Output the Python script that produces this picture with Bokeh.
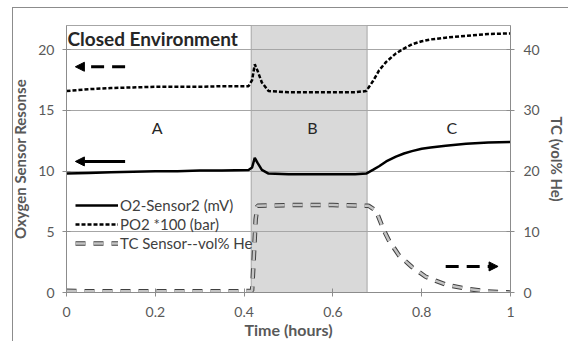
from bokeh.plotting import figure
from bokeh.models import (Range1d, LinearAxis, FixedTicker, CustomJSTickFormatter,
                          Legend, LegendItem, Label, Arrow, NormalHead, ColumnDataSource)
from bokeh.embed import file_html
from bokeh.resources import INLINE

# ---------------- data ----------------
time_main = [0, 0.05, 0.1, 0.15, 0.2, 0.25, 0.3, 0.35, 0.41, 0.418, 0.424, 0.43, 0.44, 0.455,
             0.5, 0.55, 0.6, 0.65, 0.675, 0.69, 0.704, 0.72, 0.742, 0.76, 0.778, 0.8, 0.82,
             0.854, 0.9, 0.95, 1.0]
o2_sensor = [9.8, 9.85, 9.9, 9.95, 10.0, 10.0, 10.05, 10.05, 10.1, 10.3, 11.1, 10.7, 10.1, 9.8,
             9.75, 9.75, 9.75, 9.75, 9.8, 10.1, 10.4, 10.8, 11.2, 11.45, 11.65, 11.85, 11.95,
             12.1, 12.25, 12.35, 12.4]
po2_x100 = [16.6, 16.75, 16.85, 16.9, 16.95, 16.95, 16.95, 17.0, 17.0, 17.5, 18.8, 18.3, 17.3, 16.6,
            16.5, 16.5, 16.5, 16.5, 16.6, 17.4, 18.3, 19.0, 19.7, 20.1, 20.45, 20.7, 20.85,
            21.0, 21.15, 21.3, 21.35]
time_tc = [0, 0.05, 0.1, 0.15, 0.2, 0.25, 0.3, 0.35, 0.4, 0.418, 0.422, 0.426, 0.43, 0.5, 0.6,
           0.68, 0.697, 0.715, 0.726, 0.749, 0.778, 0.809, 0.854, 0.899, 0.944, 0.98, 1.0]
tc_he = [0.3, 0.2, 0.2, 0.2, 0.2, 0.2, 0.2, 0.2, 0.2, 0.3, 6.0, 12.0, 14.3, 14.4, 14.4,
         14.3, 13.5, 10.2, 8.6, 6.1, 4.2, 2.6, 1.3, 0.65, 0.2, 0.05, 0.0]

phase_bounds = [0.416, 0.677]
phase_labels = ["A", "B", "C"]
phase_label_x = [0.204, 0.554, 0.868]
phase_label_y = [13.6, 13.6, 13.6]

x_ticks = [0, 0.2, 0.4, 0.6, 0.8, 1]
left_ticks = [0, 5, 10, 15, 20]
right_ticks = [0, 10, 20, 30, 40]

series_names = ["O2-Sensor2 (mV)", "PO2 *100 (bar)", "TC Sensor--vol% He"]

# arrows: x_start, x_end, y
arrow_po2 = [0.132, 0.02, 18.6]
arrow_o2 = [0.132, 0.02, 10.8]
arrow_tc = [0.854, 0.972, 4.3]

FONT = "Lato"
GRAY_TXT = "#595959"
FRAME_GRAY = "#8c8c8c"

p = figure(width=568, height=341, output_backend="svg", toolbar_location=None,
           x_range=Range1d(0, 1), y_range=Range1d(0, 22),
           min_border_left=66, min_border_right=56, min_border_top=25, min_border_bottom=49)
p.extra_y_ranges = {"tc": Range1d(0, 44)}
p.background_fill_color = "white"
p.border_fill_color = None
# chart-area border (left and top edges, as in the reference)
p.styles = {
    "background-color": "white",
    "background-image": f"linear-gradient({FRAME_GRAY}, {FRAME_GRAY}), linear-gradient({FRAME_GRAY}, {FRAME_GRAY})",
    "background-position": "12px 7px, 12px 7px",
    "background-size": "1px 100%, 100% 1px",
    "background-repeat": "no-repeat",
}
p.outline_line_color = "#a6a6a6"
p.outline_line_width = 1

# grid
p.xgrid.visible = False
p.ygrid.ticker = FixedTicker(ticks=left_ticks)
p.ygrid.grid_line_color = "#a6a6a6"
p.ygrid.grid_line_width = 1

# shaded phase B
src_shade = ColumnDataSource(dict(left=[phase_bounds[0]], right=[phase_bounds[1]],
                                  bottom=[p.y_range.start], top=[p.y_range.end]))
p.quad(left="left", right="right", bottom="bottom", top="top", source=src_shade,
       fill_color="#d9d9d9", line_color="#a6a6a6", line_width=1, level="image")

# axes styling
def style_axis(ax):
    ax.axis_line_color = FRAME_GRAY
    ax.major_tick_line_color = FRAME_GRAY
    ax.major_tick_in = 4
    ax.major_tick_out = 4
    ax.minor_tick_line_color = None
    ax.major_label_text_font = FONT
    ax.major_label_text_font_size = "14px"
    ax.major_label_text_color = GRAY_TXT
    ax.axis_label_text_font = FONT
    ax.axis_label_text_font_size = "15px"
    ax.axis_label_text_font_style = "bold"
    ax.axis_label_text_color = GRAY_TXT

xa = p.xaxis[0]
style_axis(xa)
xa.ticker = FixedTicker(ticks=x_ticks)
xa.formatter = CustomJSTickFormatter(code="return String(tick);")
xa.axis_label = "Time (hours)"
xa.axis_label_text_font_size = "16px"
xa.major_label_standoff = 10
xa.axis_label_standoff = 0

ya = p.yaxis[0]
style_axis(ya)
ya.ticker = FixedTicker(ticks=left_ticks)
ya.axis_label = "Oxygen Sensor Resonse"
ya.major_label_standoff = 8
ya.axis_label_standoff = 6

ra = LinearAxis(y_range_name="tc", ticker=FixedTicker(ticks=right_ticks), axis_label="TC (vol% He)")
style_axis(ra)
ra.major_label_standoff = 9
ra.axis_label_standoff = 5
p.add_layout(ra, "right")

# series
r_o2 = p.line(time_main, o2_sensor, line_color="black", line_width=2.5)
r_po2 = p.line(time_main, po2_x100, line_color="black", line_width=2.5, line_dash="4 2")
r_tc_out = p.line(time_tc, tc_he, y_range_name="tc", line_color="#404040", line_width=4.5,
                  line_dash="10 8")
r_tc_in = p.line(time_tc, tc_he, y_range_name="tc", line_color="#c4c4c4", line_width=2.5,
                 line_dash="10 8")

legend = Legend(items=[LegendItem(label=series_names[0], renderers=[r_o2]),
                       LegendItem(label=series_names[1], renderers=[r_po2]),
                       LegendItem(label=series_names[2], renderers=[r_tc_out, r_tc_in])],
                location=(9, 40), padding=0, margin=0, spacing=1,
                glyph_width=43, glyph_height=18, label_height=18, label_standoff=2,
                label_text_font=FONT, label_text_font_size="15px", label_text_color="#404040",
                background_fill_alpha=0, border_line_color=None)
p.add_layout(legend)

# phase labels
for t, lx, ly in zip(phase_labels, phase_label_x, phase_label_y):
    p.add_layout(Label(x=lx, y=ly, text=t, text_align="center", text_baseline="middle",
                       text_font=FONT, text_font_size="16px", text_color="#262626"))

p.add_layout(Label(x=0, y=20.95, x_offset=1, text="Closed Environment", text_align="left",
                   text_baseline="middle", text_font=FONT, text_font_size="19px",
                   text_font_style="bold", text_color="#262626"))

# arrows
p.add_layout(Arrow(x_start=arrow_po2[0], x_end=arrow_po2[1], y_start=arrow_po2[2], y_end=arrow_po2[2],
                   line_width=3, line_dash="13 8",
                   end=NormalHead(size=9, fill_color="black", line_color="black")))
p.add_layout(Arrow(x_start=arrow_o2[0], x_end=arrow_o2[1], y_start=arrow_o2[2], y_end=arrow_o2[2],
                   line_width=3,
                   end=NormalHead(size=9, fill_color="black", line_color="black")))
p.add_layout(Arrow(x_start=arrow_tc[0], x_end=arrow_tc[1], y_start=arrow_tc[2], y_end=arrow_tc[2],
                   y_range_name="tc", line_width=3, line_dash="13 8",
                   end=NormalHead(size=9, fill_color="black", line_color="black")))

open("out.html", "w").write(file_html(p, INLINE))
